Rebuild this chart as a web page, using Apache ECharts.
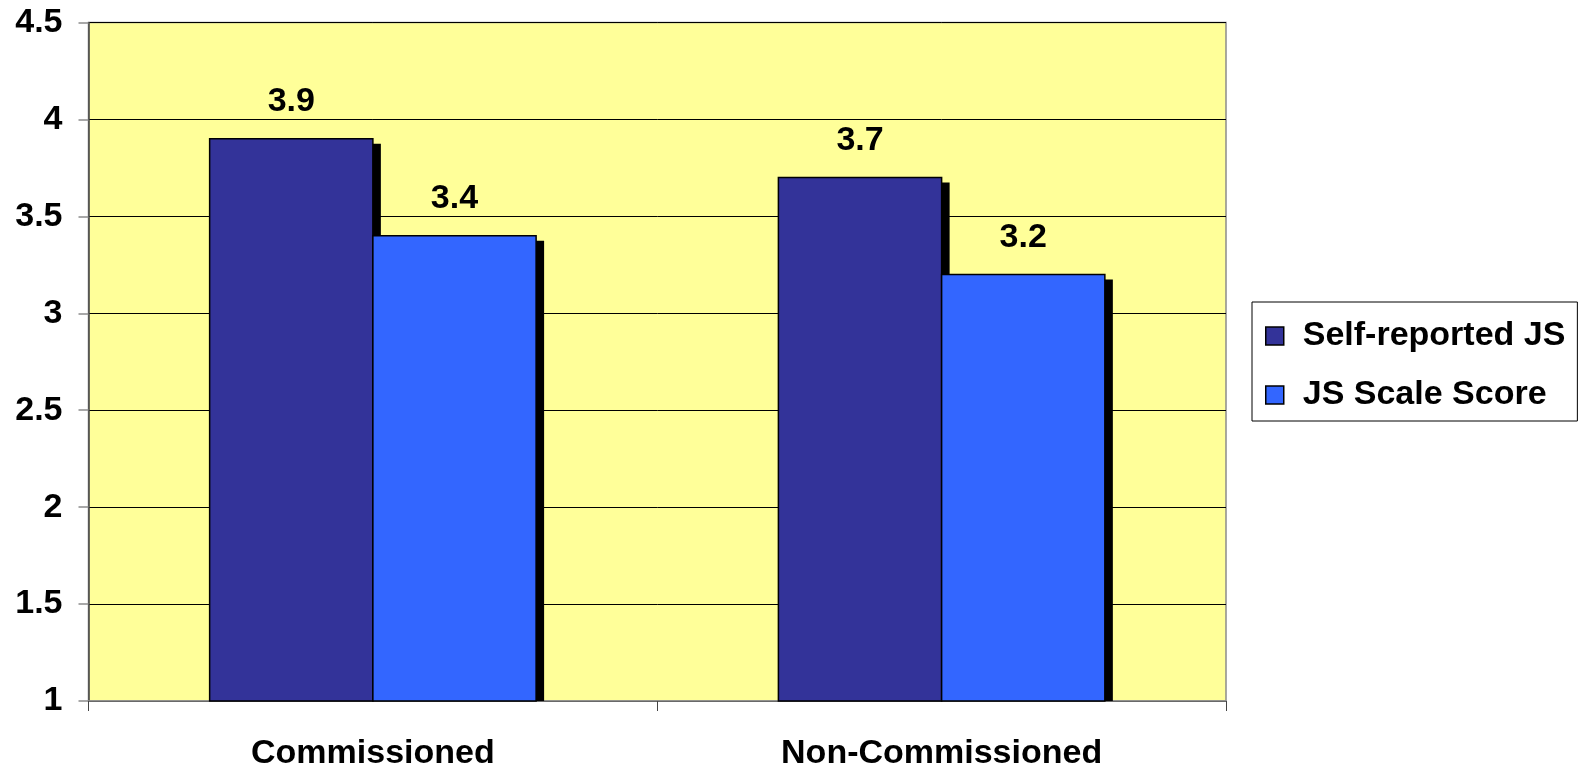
<!DOCTYPE html>
<html>
<head>
<meta charset="utf-8">
<script src="https://cdn.jsdelivr.net/npm/echarts@6/dist/echarts.min.js"></script>
<style>
  html, body { margin: 0; padding: 0; background: #fff; }
  #chart { width: 1580px; height: 772px; }
</style>
</head>
<body>
<div id="chart"></div>
<script>
// Job satisfaction by officer group
const categories = ['Commissioned', 'Non-Commissioned'];
const seriesNames = ['Self-reported JS', 'JS Scale Score'];
const selfReported = [3.9, 3.7];
const scaleScore = [3.4, 3.2];
const axisMin = 1, axisMax = 4.5, axisStep = 0.5;

const FONT = '"Liberation Sans", Arial, sans-serif';
const colors = ['#333399', '#3366FF'];
const BAR_FRACTION = 0.287;      // share of a category band taken by one bar
const SHADOW_DX = 8, SHADOW_DY = 5;

// Bars with a hard drop shadow that stops at the category axis
function makeRenderer(slot) {
  return function (params, api) {
    const idx = api.value(0);
    const val = api.value(1);
    const base = api.coord([idx, axisMin]);
    const top = api.coord([idx, val]);
    const w = api.size([1, 0])[0] * BAR_FRACTION;
    const x = base[0] + (slot === 0 ? -w : 0);
    const h = base[1] - top[1];
    return {
      type: 'group',
      children: [
        { type: 'rect',
          shape: { x: x + SHADOW_DX, y: top[1] + SHADOW_DY, width: w, height: h - SHADOW_DY },
          style: { fill: '#000' } },
        { type: 'rect',
          shape: { x: x, y: top[1], width: w, height: h },
          style: { fill: colors[slot], stroke: '#000', lineWidth: 1.5 } },
        { type: 'text',
          x: x + w / 2, y: top[1] - 37,
          style: { text: String(val), fill: '#000', fontSize: 34, fontWeight: 'bold',
                   fontFamily: FONT, align: 'center', verticalAlign: 'middle' } }
      ]
    };
  };
}

const chart = echarts.init(document.getElementById('chart'), null, { renderer: 'canvas' });
chart.setOption({
  animation: false,
  backgroundColor: '#fff',
  grid: {
    left: 88.5, right: 354, top: 22.5, bottom: 71,
    show: true, backgroundColor: '#FFFF99', borderColor: '#8c8c8c', borderWidth: 1.5
  },
  legend: {
    orient: 'vertical',
    left: 1252, top: 302,
    padding: [17, 12, 9, 13],
    itemGap: 25,
    itemWidth: 18, itemHeight: 18,
    icon: 'rect',
    borderColor: '#000', borderWidth: 1,
    backgroundColor: '#fff',
    itemStyle: { borderColor: '#000', borderWidth: 1.5 },
    textStyle: { fontSize: 34, fontWeight: 'bold', fontFamily: FONT, color: '#000',
                 lineHeight: 32, padding: [0, 0, 0, 14] },
    data: seriesNames
  },
  xAxis: {
    type: 'category',
    data: categories,
    axisLine: { show: true, lineStyle: { color: '#8c8c8c', width: 1.5 } },
    axisTick: { show: true, alignWithLabel: false, length: 10, lineStyle: { color: '#444', width: 1 } },
    axisLabel: { fontSize: 34, fontWeight: 'bold', fontFamily: FONT, color: '#000', margin: 36 },
    splitLine: { show: false }
  },
  yAxis: {
    type: 'value',
    min: axisMin, max: axisMax, interval: axisStep,
    axisLine: { show: true, lineStyle: { color: '#444', width: 1.5 } },
    axisTick: { show: true, length: 10, lineStyle: { color: '#8c8c8c', width: 1.5 } },
    axisLabel: { fontSize: 34, fontWeight: 'bold', fontFamily: FONT, color: '#000', margin: 26 },
    splitLine: { show: true, lineStyle: { color: '#000', width: 1 } }
  },
  series: [
    { name: seriesNames[0], type: 'custom', renderItem: makeRenderer(0),
      itemStyle: { color: colors[0] },
      encode: { x: 0, y: 1 },
      data: selfReported.map((v, i) => [i, v]) },
    { name: seriesNames[1], type: 'custom', renderItem: makeRenderer(1),
      itemStyle: { color: colors[1] },
      encode: { x: 0, y: 1 },
      data: scaleScore.map((v, i) => [i, v]) }
  ]
});
</script>
</body>
</html>
